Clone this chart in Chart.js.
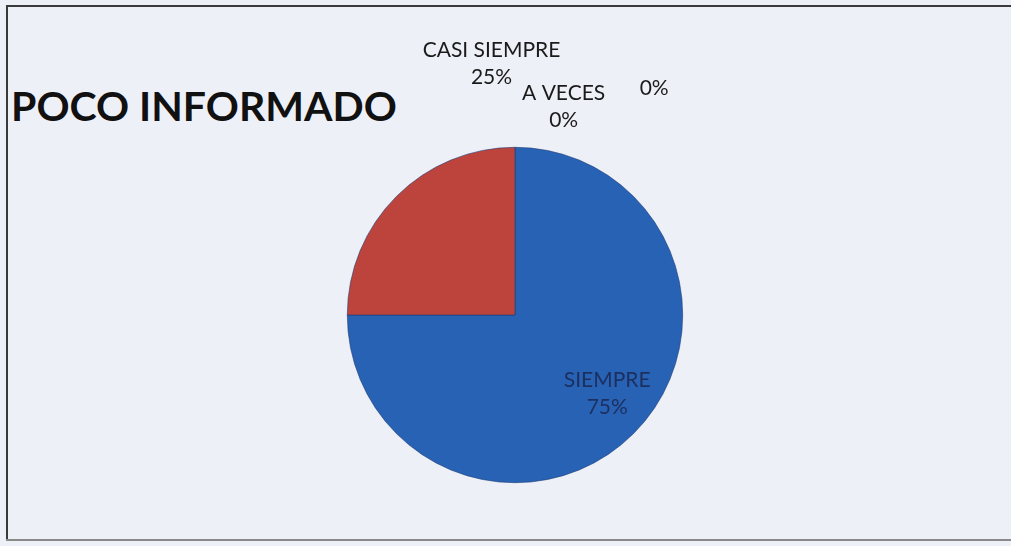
<!DOCTYPE html>
<html>
<head>
<meta charset="utf-8">
<script src="https://cdn.jsdelivr.net/npm/chart.js@4.4.1/dist/chart.umd.min.js"></script>
<style>
    html, body { margin: 0; padding: 0; background: #eef0f8; overflow: hidden; }
    #frame {
        position: relative;
        width: 1011px;
        height: 546px;
        overflow: hidden;
        background: #eef0f8;
    }
    .rule { position: absolute; }
    #lineLeft { left: 6px; top: 5px; width: 2px; height: 535px; background: #3a3a3a; }
    #lineTop { left: 6px; top: 5px; width: 1005px; height: 2px; background: #3a3a3a; }
    #lineBottom { left: 6px; top: 539px; width: 1005px; height: 2px; background: #8a8a8a; }
    #title {
        position: absolute;
        left: 11px; top: 81px;
        font-family: Lato, "Open Sans", sans-serif;
        font-weight: bold;
        font-size: 41px;
        color: #111;
        white-space: nowrap;
    }
    canvas { position: absolute; left: 0; top: 0; }
</style>
</head>
<body>
<div id="frame">
    <div class="rule" id="lineLeft"></div>
    <div class="rule" id="lineTop"></div>
    <div class="rule" id="lineBottom"></div>
    <div id="title">POCO INFORMADO</div>
    <canvas id="pie" width="1011" height="546"></canvas>
</div>
<script>
// chart data
const categories = ['SIEMPRE', 'CASI SIEMPRE', 'A VECES', ''];
const percents = [75, 25, 0, 0];
const sliceColors = ['#2862b5', '#bd433d', '#8fb03f', '#7a5aa0'];

// label anchors as offsets (in radius units) from the pie centre,
// matching where Excel ended up placing them
const labelPlacement = [
    { dx: 0.55, dy: 0.47, color: '#1c2f5e' },
    { dx: -0.14, dy: -1.5, color: '#1a1a1a' },
    { dx: 0.29, dy: -1.24, color: '#1a1a1a' },
    { dx: 0.83, dy: -1.35, color: '#1a1a1a' }
];

const dataLabels = {
    id: 'dataLabels',
    afterDatasetsDraw(chart) {
        const ctx = chart.ctx;
        const meta = chart.getDatasetMeta(0);
        ctx.save();
        ctx.font = '21px Lato, "Open Sans", sans-serif';
        ctx.textAlign = 'center';
        ctx.textBaseline = 'middle';
        meta.data.forEach((arc, i) => {
            const p = arc.getProps(['x', 'y', 'outerRadius'], true);
            const place = labelPlacement[i];
            const x = p.x + place.dx * p.outerRadius;
            const y = p.y + place.dy * p.outerRadius;
            ctx.fillStyle = place.color;
            const pct = percents[i] + '%';
            if (categories[i]) {
                ctx.fillText(categories[i], x, y - 13.5);
                ctx.fillText(pct, x, y + 13.5);
            } else {
                ctx.fillText(pct, x, y);
            }
        });
        ctx.restore();
    }
};

new Chart(document.getElementById('pie'), {
    type: 'pie',
    data: {
        labels: categories,
        datasets: [{
            data: percents,
            backgroundColor: sliceColors,
            borderColor: '#1f3d73',
            borderWidth: 0.6
        }]
    },
    options: {
        responsive: false,
        animation: false,
        layout: { padding: { left: 347, right: 328, top: 147, bottom: 63 } },
        plugins: {
            legend: { display: false },
            tooltip: { enabled: false }
        }
    },
    plugins: [dataLabels]
});
</script>
</body>
</html>
